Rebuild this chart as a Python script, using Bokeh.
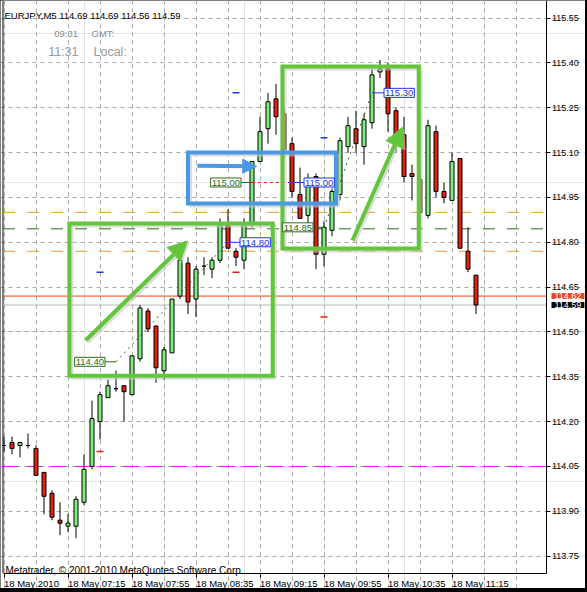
from bokeh.plotting import figure
from bokeh.layouts import column
from bokeh.models import (FixedTicker, PrintfTickFormatter, Label, Arrow, NormalHead,
                          LinearAxis, Grid, CustomLabelingPolicy)
from bokeh.embed import file_html
from bokeh.resources import INLINE

# ---------------- data: EURJPY M5 bars ----------------
symbol = "EURJPY,M5"
opens = [114.12, 114.13, 114.12, 114.12, 114.11, 114.03, 113.96, 113.87, 113.85, 113.85,
         113.93, 114.05, 114.20, 114.28, 114.31, 114.32, 114.29, 114.41, 114.57, 114.52,
         114.37, 114.43, 114.62, 114.73, 114.61, 114.72, 114.71, 114.74, 114.86, 114.77,
         114.74, 114.86, 115.07, 115.18, 115.28, 115.23, 115.13, 114.96, 114.89, 115.02,
         114.76, 114.84, 114.96, 115.12, 115.18, 115.12, 115.20, 115.37, 115.38, 115.24,
         115.16, 115.03, 115.01, 114.89, 115.17, 114.97, 114.94, 115.08, 114.77, 114.69]
highs = [114.15, 114.15, 114.13, 114.16, 114.12, 114.03, 113.97, 113.93, 113.89, 113.95,
         114.09, 114.27, 114.30, 114.34, 114.37, 114.32, 114.42, 114.59, 114.58, 114.52,
         114.45, 114.61, 114.76, 114.75, 114.72, 114.75, 114.75, 114.88, 114.91, 114.78,
         114.88, 115.07, 115.22, 115.30, 115.33, 115.25, 115.15, 115.05, 115.03, 115.03,
         114.87, 114.98, 115.15, 115.22, 115.24, 115.23, 115.38, 115.41, 115.40, 115.25,
         115.22, 115.06, 115.04, 115.21, 115.19, 115.00, 115.10, 115.08, 114.85, 114.69]
lows = [114.10, 114.09, 114.08, 114.11, 114.02, 113.89, 113.87, 113.82, 113.83, 113.81,
        113.92, 114.04, 114.14, 114.28, 114.30, 114.20, 114.29, 114.40, 114.50, 114.33,
        114.34, 114.43, 114.61, 114.56, 114.55, 114.69, 114.68, 114.73, 114.78, 114.72,
        114.71, 114.85, 115.07, 115.13, 115.16, 115.08, 114.95, 114.88, 114.86, 114.71,
        114.72, 114.82, 114.94, 115.10, 115.10, 115.06, 115.18, 115.35, 115.17, 115.10,
        115.00, 114.94, 114.86, 114.88, 114.95, 114.93, 114.94, 114.78, 114.70, 114.56]
closes = [114.12, 114.11, 114.13, 114.12, 114.02, 113.95, 113.88, 113.86, 113.86, 113.94,
          114.04, 114.21, 114.29, 114.32, 114.31, 114.30, 114.42, 114.58, 114.51, 114.38,
          114.44, 114.61, 114.74, 114.60, 114.71, 114.72, 114.74, 114.86, 114.78, 114.75,
          114.86, 115.07, 115.17, 115.27, 115.22, 115.11, 114.97, 114.88, 115.01, 114.76,
          114.85, 114.97, 115.14, 115.19, 115.13, 115.21, 115.36, 115.38, 115.23, 115.16,
          115.02, 115.02, 114.90, 115.19, 114.97, 114.95, 115.07, 114.78, 114.71, 114.59]

tick_bars = [0, 8, 16, 24, 32, 40, 48, 56]
tick_labels = ["18 May 2010", "18 May 07:15", "18 May 07:55", "18 May 08:35",
               "18 May 09:15", "18 May 09:55", "18 May 10:35", "18 May 11:15"]
price_ticks = [113.75, 113.90, 114.05, 114.20, 114.35, 114.50, 114.65,
               114.80, 114.95, 115.10, 115.25, 115.40, 115.55]

# horizontal levels
orange_levels = [114.90, 114.77]
green_level = 114.845
magenta_level = 114.05
ask_price = 114.62
bid_price = 114.59

# swing points: lows (green tags) and highs (blue tags)
low_bars = [14, 31, 40]
low_prices = [114.40, 115.00, 114.85]
high_bars = [28, 36, 46]
high_prices = [114.80, 115.00, 115.30]

# band marks above / below selected bars
band_bars = [12, 29, 40]
band_upper = [114.70, 115.30, 115.15]
band_lower = [114.10, 114.70, 114.55]

# hand-drawn boxes (bar, price)
green_box_left = [8.17, 34.80]
green_box_right = [33.59, 51.84]
green_box_top = [114.863, 115.388]
green_box_bottom = [114.353, 114.779]
blue_box = dict(left=23.0, right=41.5, top=115.100, bottom=114.930)

# hand-drawn arrows (bar, price) -> (bar, price)
green_arrows = [((10.21, 114.472), (22.92, 114.804)),
                ((43.55, 114.806), (49.80, 115.185))]
blue_arrow = ((24.17, 115.056), (31.59, 115.054))

# ---------------- geometry ----------------
# the plotting frame covers the whole canvas; the price and time scales
# are pinned inside it at fixed locations
W, H = 585, 588
BAR_PX = 8.0
PPU = 298.85                      # pixels per 1.00 JPY
x_start = -3.5 / BAR_PX           # bar 0 centred 3.5 px from the left edge
x_end = x_start + W / BAR_PX
y_end = 115.609
y_start = y_end - H / PPU


def px_x(px):
    return x_start + px / BAR_PX


def px_y(py):
    return y_end - py / PPU


AXIS_X = px_x(545.5)              # price scale line
AXIS_Y = px_y(572.5)              # time scale line
LEFT_X = px_x(2.5)                # left frame line

FONT = "Liberation Sans"
BULL = "#80EE80"
BEAR = "#E2200E"
GREEN_MARK = "#63C53A"
BLUE_MARK = "#4C98E4"
SHADOW = "#C4C4C4"
LOW_INK = "#2E6A1C"
HIGH_INK = "#1F35E0"
GRID = "#A8A8A8"

p = figure(width=W, height=H, x_range=(x_start, x_end), y_range=(y_start, y_end),
           x_axis_location=None, y_axis_location=None,
           toolbar_location=None, output_backend="svg",
           min_border_left=0, min_border_right=0, min_border_top=0, min_border_bottom=0)
p.outline_line_color = None
p.background_fill_color = "white"
p.border_fill_color = "white"

# grids, bounded to the chart box
xg = Grid(dimension=0, ticker=FixedTicker(ticks=list(range(0, 68, 4))),
          bounds=(AXIS_Y, y_end), grid_line_color=GRID, grid_line_dash="4 4")
yg = Grid(dimension=1, ticker=FixedTicker(ticks=price_ticks),
          bounds=(LEFT_X, AXIS_X), grid_line_color=GRID, grid_line_dash="4 4")
p.add_layout(xg)
p.add_layout(yg)

# price scale
ya = LinearAxis(fixed_location=AXIS_X, ticker=FixedTicker(ticks=price_ticks),
                formatter=PrintfTickFormatter(format="%.2f"), bounds=(AXIS_Y, y_end),
                major_tick_out=4, major_tick_in=0, minor_tick_out=0, minor_tick_in=0,
                major_tick_line_color="black", major_label_standoff=2,
                major_label_text_font=FONT, major_label_text_font_size="9px",
                major_label_text_color="black", axis_line_color="black")
p.add_layout(ya, "right")

# time scale: tick marks here, texts placed below as labels
xa = LinearAxis(fixed_location=AXIS_Y, ticker=FixedTicker(ticks=tick_bars),
                bounds=(LEFT_X, AXIS_X),
                major_label_policy=CustomLabelingPolicy(code="return new Set()"),
                major_tick_out=4, major_tick_in=0, minor_tick_out=0, minor_tick_in=0,
                major_tick_line_color="black", axis_line_color="black")
p.add_layout(xa, "below")

# left frame line
p.segment(x0=[LEFT_X], y0=[AXIS_Y], x1=[LEFT_X], y1=[y_end], line_color="black", line_width=1)

# price levels behind the candles
p.segment(x0=[LEFT_X] * 2, y0=orange_levels, x1=[AXIS_X] * 2, y1=orange_levels,
          line_color="#EE9A2A", line_dash="12 12", line_width=1)
p.segment(x0=[LEFT_X], y0=[green_level], x1=[AXIS_X], y1=[green_level],
          line_color="#336B1F", line_dash="12 12", line_width=1)
p.segment(x0=[LEFT_X], y0=[magenta_level], x1=[AXIS_X], y1=[magenta_level],
          line_color="#FF00FF", line_dash="15 9", line_width=1)
p.segment(x0=[LEFT_X], y0=[ask_price], x1=[AXIS_X], y1=[ask_price],
          line_color="#F04010", line_width=1)
p.segment(x0=[LEFT_X], y0=[bid_price], x1=[AXIS_X], y1=[bid_price],
          line_color="#B8B8B8", line_width=1)

# candles
idx = list(range(len(opens)))
body_top = [max(o, c) for o, c in zip(opens, closes)]
body_bot = [min(o, c) for o, c in zip(opens, closes)]
fills = [BULL if c > o else (BEAR if c < o else "white") for o, c in zip(opens, closes)]
p.segment(x0=idx, y0=highs, x1=idx, y1=lows, line_color="black", line_width=1)
p.vbar(x=idx, width=0.5, top=body_top, bottom=body_bot,
       fill_color=fills, line_color="black", line_width=1)

# band marks
p.dash(x=band_bars, y=band_upper, size=7, line_color="#1F35E0", line_width=1.5)
p.dash(x=band_bars, y=band_lower, size=7, line_color="#E2200E", line_width=1.5)

# swing connections
p.segment(x0=[low_bars[0], low_bars[2]], y0=[low_prices[0], low_prices[2]],
          x1=[high_bars[0], high_bars[2]], y1=[high_prices[0], high_prices[2]],
          line_color=LOW_INK, line_width=1, line_dash="2 4")
p.segment(x0=[low_bars[1]], y0=[low_prices[1]], x1=[high_bars[1]], y1=[high_prices[1]],
          line_color="#E2200E", line_width=1, line_dash="3 3")
p.segment(x0=low_bars, y0=low_prices, x1=[b - 2.5 for b in low_bars], y1=low_prices,
          line_color=LOW_INK, line_width=1)
p.segment(x0=high_bars, y0=high_prices, x1=[b + 2.5 for b in high_bars], y1=high_prices,
          line_color=HIGH_INK, line_width=1)

# hand-drawn boxes with soft shadow
sx, sy = 2 / BAR_PX, 2 / PPU
p.quad(left=[v + sx for v in green_box_left], right=[v + sx for v in green_box_right],
       top=[v - sy for v in green_box_top], bottom=[v - sy for v in green_box_bottom],
       fill_color=None, line_color=SHADOW, line_width=4, line_alpha=0.6)
p.quad(left=[blue_box["left"] + sx], right=[blue_box["right"] + sx],
       top=[blue_box["top"] - sy], bottom=[blue_box["bottom"] - sy],
       fill_color=None, line_color=SHADOW, line_width=4, line_alpha=0.6)
p.quad(left=green_box_left, right=green_box_right, top=green_box_top, bottom=green_box_bottom,
       fill_color=None, line_color=GREEN_MARK, line_width=4, line_join="miter")
p.quad(left=[blue_box["left"]], right=[blue_box["right"]], top=[blue_box["top"]],
       bottom=[blue_box["bottom"]], fill_color=None, line_color=BLUE_MARK, line_width=4,
       line_join="miter")

# hand-drawn arrows
for (a, b) in green_arrows:
    p.add_layout(Arrow(x_start=a[0] + sx, y_start=a[1] - sy, x_end=b[0] + sx, y_end=b[1] - sy,
                       line_color=SHADOW, line_alpha=0.6, line_width=4,
                       end=NormalHead(size=19, fill_color=SHADOW, fill_alpha=0.6,
                                      line_color=None)))
    p.add_layout(Arrow(x_start=a[0], y_start=a[1], x_end=b[0], y_end=b[1],
                       line_color=GREEN_MARK, line_width=4,
                       end=NormalHead(size=19, fill_color=GREEN_MARK, line_color=GREEN_MARK,
                                      line_width=1)))
(a, b) = blue_arrow
p.add_layout(Arrow(x_start=a[0], y_start=a[1], x_end=b[0], y_end=b[1],
                   line_color=BLUE_MARK, line_width=4,
                   end=NormalHead(size=14, fill_color=BLUE_MARK, line_color=BLUE_MARK,
                                  line_width=1)))

# swing price tags
tag_pad = dict(left=1, right=1, top=2, bottom=1)
for b, pr in zip(low_bars, low_prices):
    p.add_layout(Label(x=b, y=pr, text=f"{pr:.2f}", x_offset=-11, text_align="right",
                       text_baseline="middle", text_font=FONT, text_font_size="9.5px",
                       text_color=LOW_INK, border_line_color=LOW_INK,
                       background_fill_color="white", padding=tag_pad))
for b, pr in zip(high_bars, high_prices):
    p.add_layout(Label(x=b, y=pr, text=f"{pr:.2f}", x_offset=12, text_align="left",
                       text_baseline="middle", text_font=FONT, text_font_size="9.5px",
                       text_color=HIGH_INK, border_line_color=HIGH_INK,
                       background_fill_color="white", padding=tag_pad))

# header texts
o, h, l, c = opens[-1], highs[-1], lows[-1], closes[-1]
p.add_layout(Label(x=px_x(4), y=px_y(14.5), text=f"{symbol}  {o:.2f} {h:.2f} {l:.2f} {c:.2f}",
                   text_font=FONT, text_font_size="9.5px", text_color="black",
                   text_baseline="alphabetic"))
p.add_layout(Label(x=px_x(77.5), y=px_y(33.3), text="09:31", text_align="right",
                   text_font=FONT, text_font_size="9.5px", text_color="#8C8C8C",
                   text_baseline="alphabetic"))
p.add_layout(Label(x=px_x(91), y=px_y(33.3), text="GMT:",
                   text_font=FONT, text_font_size="9.5px", text_color="#8C8C8C",
                   text_baseline="alphabetic"))
p.add_layout(Label(x=px_x(78), y=px_y(51.5), text="11:31", text_align="right",
                   text_font=FONT, text_font_size="12.5px", text_color="#9A9A9A",
                   text_baseline="alphabetic"))
p.add_layout(Label(x=px_x(93), y=px_y(51.5), text="Local:",
                   text_font=FONT, text_font_size="12.5px", text_color="#9A9A9A",
                   text_baseline="alphabetic"))
p.add_layout(Label(x=px_x(5), y=px_y(569.5), text="Metatrader, © 2001-2010 MetaQuotes Software Corp.",
                   text_font=FONT, text_font_size="10px", text_color="black",
                   text_baseline="alphabetic"))

# time texts under the time scale
for b, t in zip(tick_bars, tick_labels):
    p.add_layout(Label(x=b, y=px_y(577), text=t, text_align="left",
                       text_baseline="top", text_font=FONT, text_font_size="9.5px",
                       text_color="black"))

# current price tags on the price scale
p.add_layout(Label(x=px_x(551), y=ask_price, text=f"{ask_price:.2f}", text_align="left",
                   text_baseline="middle", text_font=FONT, text_font_size="9px",
                   text_color="white", background_fill_color="#E5481C",
                   padding=dict(left=3, right=3, top=0, bottom=0)))
p.add_layout(Label(x=px_x(551), y=bid_price, text=f"{bid_price:.2f}", text_align="left",
                   text_baseline="middle", text_font=FONT, text_font_size="9px",
                   text_color="white", background_fill_color="black",
                   padding=dict(left=3, right=3, top=0, bottom=0)))

page = column(p, width=587, height=592, styles={"background-color": "black"})
open("out.html", "w").write(file_html(page, INLINE))
